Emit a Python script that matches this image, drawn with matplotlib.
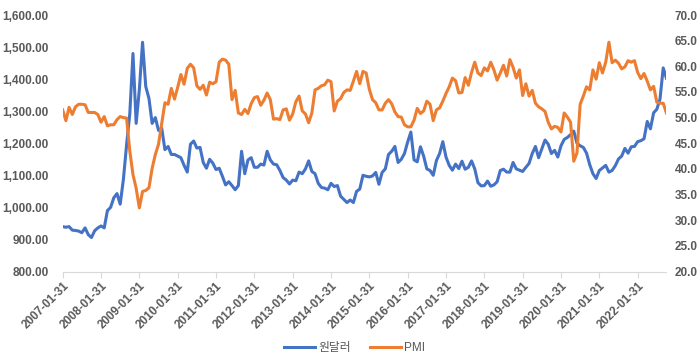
import matplotlib
matplotlib.use("Agg")
import matplotlib.pyplot as plt
from matplotlib.ticker import FuncFormatter, FixedLocator
import numpy as np

plt.rcParams['font.family'] = ['Liberation Sans', 'Noto Sans CJK KR', 'DejaVu Sans']

# 원달러 (USD/KRW, month-end), Jan 2007 .. Oct 2022
krw_2007 = [940, 938, 940, 929, 928, 926, 921, 936, 915, 906, 927, 936]
krw_2008 = [942, 936, 990, 1000, 1030, 1043, 1010, 1087, 1195, 1291, 1480, 1262]
krw_2009 = [1368, 1515, 1377, 1340, 1262, 1280, 1240, 1247, 1180, 1190, 1165, 1165]
krw_2010 = [1160, 1155, 1131, 1110, 1197, 1207, 1185, 1187, 1140, 1122, 1150, 1138]
krw_2011 = [1118, 1122, 1097, 1070, 1080, 1068, 1055, 1068, 1175, 1105, 1148, 1155]
krw_2012 = [1125, 1125, 1135, 1132, 1175, 1148, 1135, 1133, 1115, 1093, 1085, 1073]
krw_2013 = [1085, 1083, 1110, 1105, 1120, 1145, 1112, 1105, 1075, 1062, 1060, 1055]
krw_2014 = [1075, 1065, 1068, 1035, 1025, 1015, 1023, 1015, 1050, 1057, 1100, 1097]
krw_2015 = [1095, 1098, 1109, 1072, 1109, 1120, 1165, 1175, 1190, 1140, 1150, 1168]
krw_2016 = [1204, 1235, 1148, 1142, 1189, 1160, 1120, 1115, 1100, 1146, 1168, 1205]
krw_2017 = [1157, 1131, 1116, 1135, 1121, 1144, 1119, 1125, 1145, 1120, 1077, 1067]
krw_2018 = [1068, 1082, 1066, 1070, 1080, 1115, 1119, 1110, 1110, 1140, 1120, 1116]
krw_2019 = [1112, 1125, 1137, 1168, 1190, 1155, 1183, 1210, 1197, 1168, 1178, 1157]
krw_2020 = [1192, 1212, 1218, 1227, 1238, 1200, 1192, 1187, 1169, 1133, 1105, 1090]
krw_2021 = [1115, 1123, 1131, 1110, 1115, 1130, 1151, 1160, 1184, 1169, 1189, 1190]
krw_2022 = [1205, 1208, 1214, 1268, 1245, 1295, 1306, 1338, 1435, 1403]

# PMI, same months
pmi_2007 = [51.5, 49.4, 52.0, 50.6, 52.1, 52.6, 52.6, 52.5, 51.0, 51.0, 51.0, 50.6]
pmi_2008 = [49.1, 50.2, 48.4, 48.6, 48.6, 49.6, 50.2, 50.0, 49.9, 43.5, 38.9, 36.2]
pmi_2009 = [32.4, 35.6, 35.8, 36.3, 40.1, 42.8, 44.8, 48.9, 52.9, 52.6, 55.7, 53.6]
pmi_2010 = [55.9, 58.4, 56.5, 59.6, 60.4, 59.7, 56.2, 55.5, 56.3, 54.4, 56.9, 56.6]
pmi_2011 = [57.0, 60.8, 61.4, 61.2, 60.4, 53.5, 55.3, 50.9, 50.6, 51.6, 50.8, 52.7]
pmi_2012 = [53.9, 54.1, 52.4, 53.4, 54.8, 53.5, 49.7, 49.8, 49.6, 51.5, 51.7, 49.5]
pmi_2013 = [50.7, 53.1, 54.2, 51.3, 50.7, 49.0, 50.9, 55.4, 55.7, 56.2, 56.4, 57.3]
pmi_2014 = [57.0, 51.3, 53.2, 53.7, 54.9, 55.4, 55.3, 57.1, 59.0, 56.6, 59.0, 58.7]
pmi_2015 = [55.5, 53.5, 52.9, 51.5, 51.5, 52.8, 53.5, 52.7, 51.1, 50.2, 50.1, 48.6]
pmi_2016 = [48.2, 48.2, 49.5, 51.8, 50.8, 51.3, 53.2, 52.6, 49.4, 51.5, 51.9, 53.2]
pmi_2017 = [54.7, 56.0, 57.7, 57.2, 54.8, 54.9, 57.8, 56.3, 58.8, 60.8, 58.7, 58.2]
pmi_2018 = [59.7, 59.1, 60.8, 59.3, 57.3, 58.7, 60.2, 58.1, 61.3, 59.8, 57.7, 59.3]
pmi_2019 = [54.3, 56.6, 54.2, 55.3, 52.8, 52.1, 51.7, 51.2, 49.1, 47.8, 48.3, 48.1]
pmi_2020 = [47.2, 50.9, 50.1, 49.1, 41.5, 43.1, 52.6, 54.2, 56.0, 55.4, 59.3, 57.5]
pmi_2021 = [60.7, 58.7, 60.8, 64.7, 60.7, 61.2, 60.6, 59.5, 59.9, 61.1, 60.8, 61.1]
pmi_2022 = [58.8, 57.6, 58.6, 57.1, 55.4, 56.1, 53.0, 52.8, 52.8, 50.9]

krw = (krw_2007 + krw_2008 + krw_2009 + krw_2010 + krw_2011 + krw_2012 + krw_2013 +
       krw_2014 + krw_2015 + krw_2016 + krw_2017 + krw_2018 + krw_2019 + krw_2020 +
       krw_2021 + krw_2022)
pmi = (pmi_2007 + pmi_2008 + pmi_2009 + pmi_2010 + pmi_2011 + pmi_2012 + pmi_2013 +
       pmi_2014 + pmi_2015 + pmi_2016 + pmi_2017 + pmi_2018 + pmi_2019 + pmi_2020 +
       pmi_2021 + pmi_2022)

tick_labels = ['2007-01-31', '2008-01-31', '2009-01-31', '2010-01-31', '2011-01-31',
               '2012-01-31', '2013-01-31', '2014-01-31', '2015-01-31', '2016-01-31',
               '2017-01-31', '2018-01-31', '2019-01-31', '2020-01-31', '2021-01-31',
               '2022-01-31']
label_krw = '원달러'
label_pmi = 'PMI'

x = np.arange(len(krw))
tick_pos = np.arange(len(tick_labels)) * 12

fig = plt.figure(figsize=(7.0, 3.57), dpi=100)
ax = fig.add_axes([62.7 / 700, (357 - 271.5) / 357, (666.4 - 62.7) / 700, (271.5 - 15) / 357])
ax2 = ax.twinx()

blue = '#4472C4'
orange = '#ED7D31'
txt = '#595959'

l1, = ax.plot(x, krw, color=blue, lw=2.2, solid_joinstyle='round', label=label_krw)
l2, = ax2.plot(x, pmi, color=orange, lw=2.2, solid_joinstyle='round', label=label_pmi)

ax.set_xlim(0, len(krw) - 1)
ax.set_ylim(800, 1600)
ax2.set_ylim(20, 70)
ax.set_yticks(np.arange(800, 1601, 100))
ax2.set_yticks(np.arange(20, 71, 5))
ax.yaxis.set_major_formatter(FuncFormatter(lambda v, p: f'{v:,.2f}'))
ax2.yaxis.set_major_formatter(FuncFormatter(lambda v, p: f'{v:.1f}'))

ax.xaxis.set_major_locator(FixedLocator(tick_pos))
ax.set_xticklabels(tick_labels, rotation=45, ha='right', rotation_mode='anchor')

for a in (ax, ax2):
    for s in a.spines.values():
        s.set_visible(False)
ax.spines['bottom'].set_visible(True)
ax.spines['bottom'].set_color('#D9D9D9')
ax.spines['bottom'].set_linewidth(0.8)

ax.tick_params(axis='x', length=4, width=0.8, color='#D9D9D9', labelsize=8.5,
               labelcolor=txt, pad=2)
ax.tick_params(axis='y', length=0, labelsize=8.5, labelcolor=txt, pad=10)
ax2.tick_params(axis='y', length=0, labelsize=8.5, labelcolor=txt, pad=6)
for lab in ax.get_yticklabels() + ax2.get_yticklabels() + ax.get_xticklabels():
    lab.set_fontweight('bold')

fig.legend(handles=[l1, l2], labels=[label_krw, label_pmi], loc='center',
           bbox_to_anchor=(0.507, 0.026), ncol=2, frameon=False, fontsize=8.5,
           handlelength=2.6, handletextpad=0.3, columnspacing=1.6,
           labelcolor=txt)

fig.savefig('out.png', dpi=100)
